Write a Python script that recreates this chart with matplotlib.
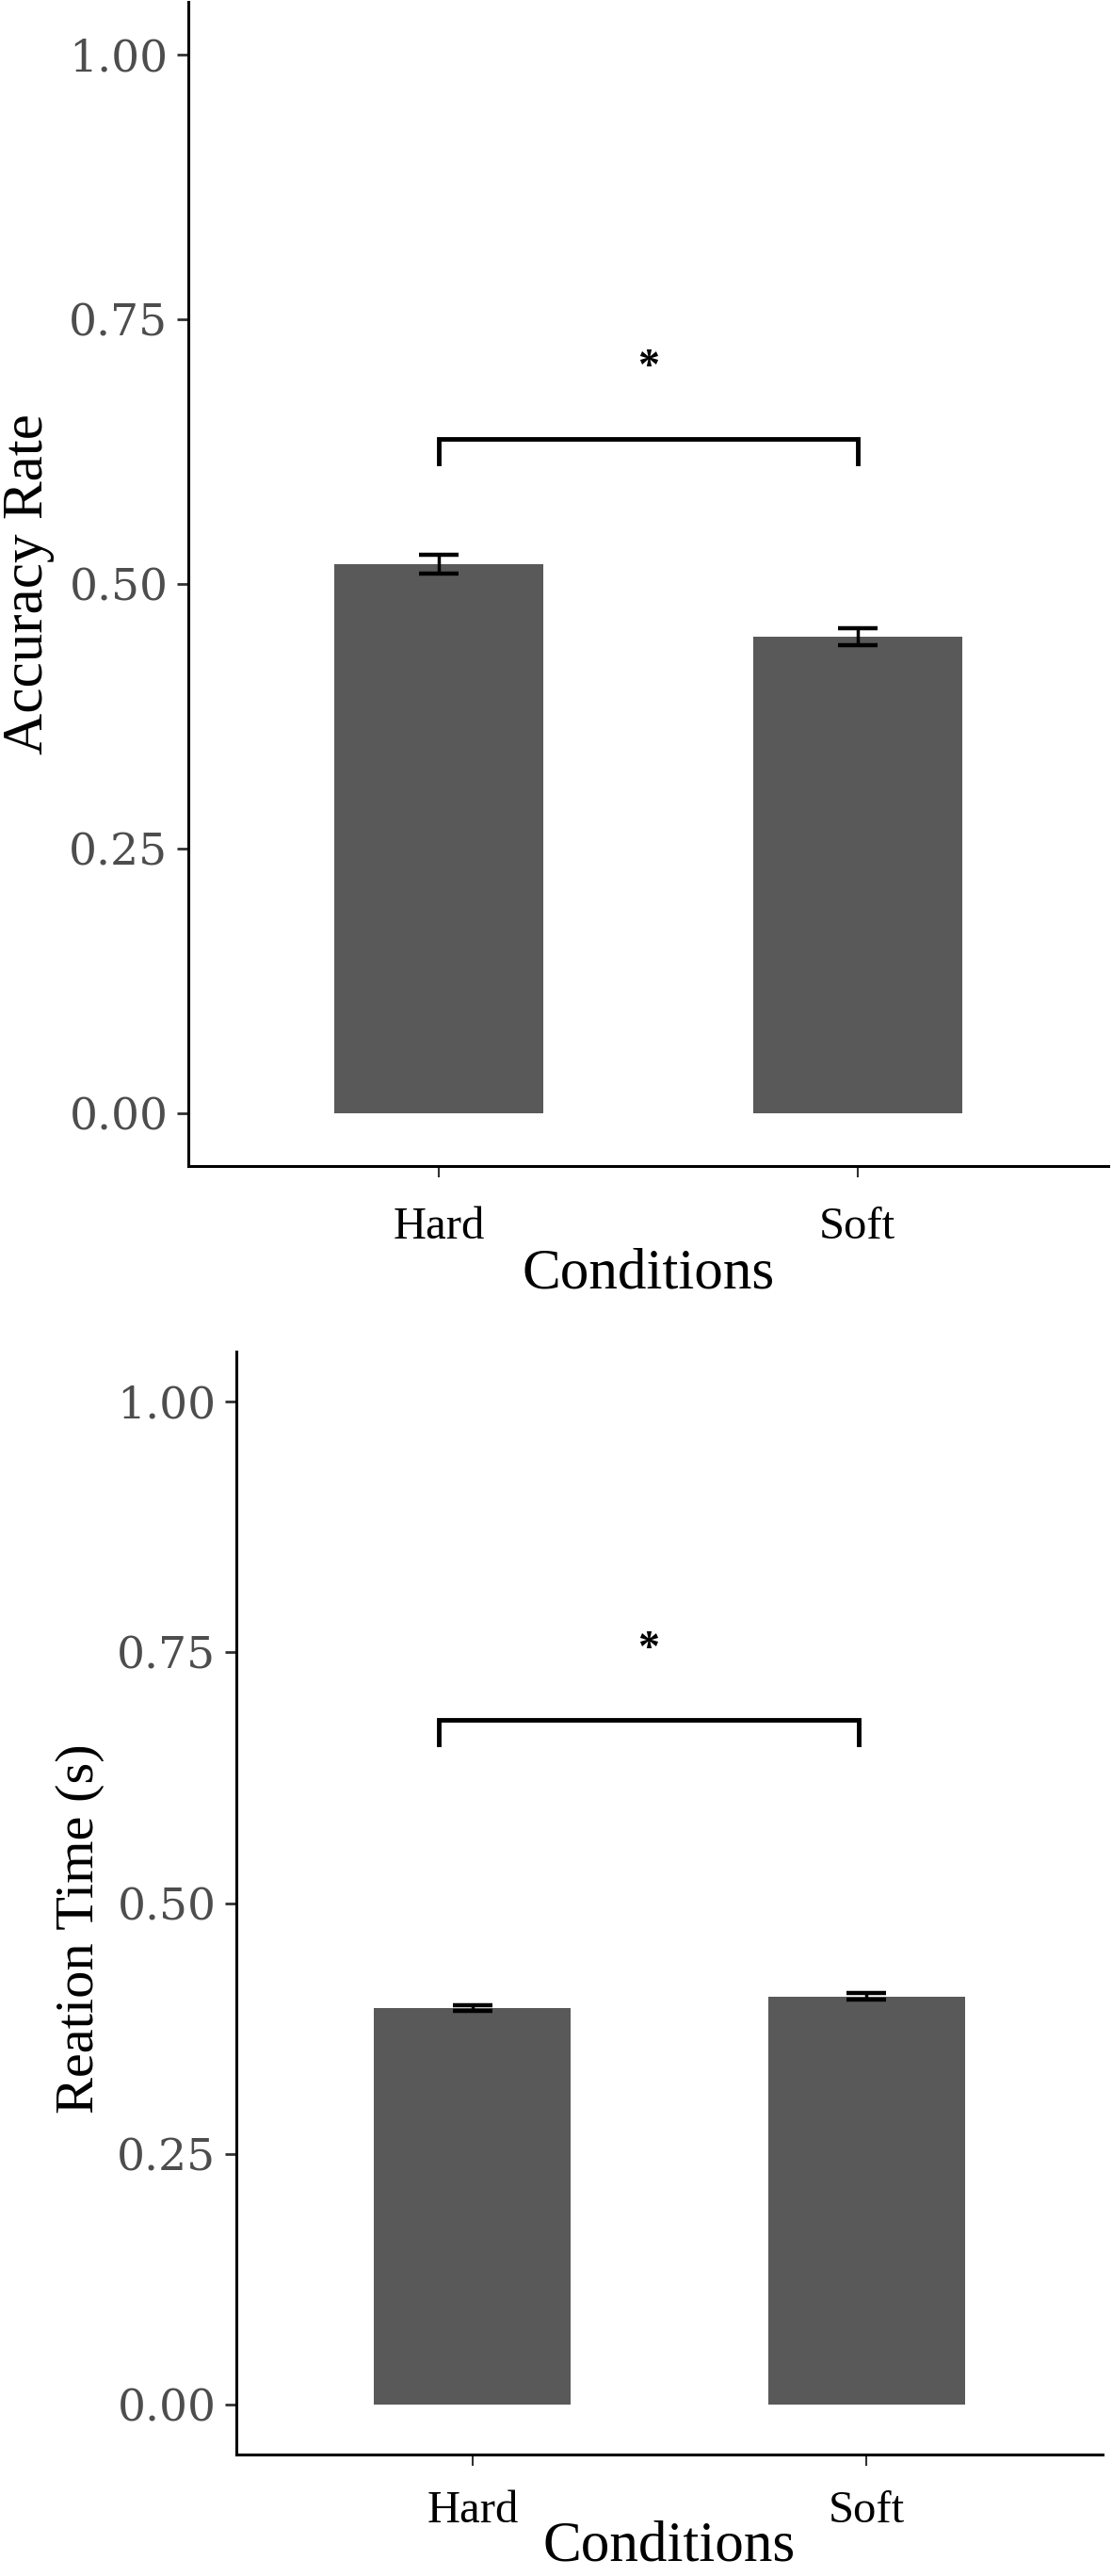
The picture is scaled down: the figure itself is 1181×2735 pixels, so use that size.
import matplotlib
matplotlib.use("Agg")
import matplotlib.pyplot as plt

plt.rcParams['font.family'] = ['Liberation Serif', 'DejaVu Serif']

conditions = ["Hard", "Soft"]
accuracy = [0.519, 0.450]
accuracy_err = [0.009, 0.008]
rt = [0.395, 0.407]
rt_err = [0.003, 0.003]
yticks = [0.00, 0.25, 0.50, 0.75, 1.00]
ytick_labels = ["0.00", "0.25", "0.50", "0.75", "1.00"]

# bracket: x-left, x-right, leg bottom, bar height, star height, star x
acc_bracket = (1.0, 2.0, 0.614, 0.637, 0.704, 1.50)
rt_bracket = (0.914, 1.98, 0.658, 0.683, 0.752, 1.446)

W, H = 1181, 2735
fig = plt.figure(figsize=(W / 100, H / 100), dpi=100)

def px_axes(l, t, r, b):
    return fig.add_axes([l / W, 1 - b / H, (r - l) / W, (b - t) / H])

def draw(ax, vals, errs, ylabel, bracket, ylab_x, ylab_y, xpad, lpad, ylab_size):
    x = list(range(1, len(conditions) + 1))
    ax.bar(x, vals, width=0.5, color="#595959", zorder=2)
    ax.errorbar(x, vals, yerr=errs, fmt="none", ecolor="black",
                elinewidth=2.5, capsize=15, capthick=3.2, zorder=3)
    x0, x1, lo, hi, star, sx = bracket
    ax.plot([x0, x0, x1, x1], [lo, hi, hi, lo], color="black", lw=3.5,
            solid_joinstyle="miter", zorder=3)
    ax.text(sx, star, "*", ha="center", va="center", fontsize=33,
            fontweight="bold", color="black")
    ax.set_xlim(0.4, 2.6)
    ax.set_ylim(-0.05, 1.05)
    ax.set_xticks(x)
    ax.set_xticklabels(conditions, fontsize=35, color="black")
    ax.set_yticks(yticks)
    ax.set_yticklabels(ytick_labels, fontsize=34, color="#4D4D4D",
                       family="DejaVu Serif")
    ax.set_xlabel("Conditions", fontsize=44, labelpad=lpad)
    ax.text(ylab_x, ylab_y, ylabel, rotation=90, ha="center", va="center",
            fontsize=ylab_size, transform=ax.transAxes)
    for s in ("top", "right"):
        ax.spines[s].set_visible(False)
    for s in ("left", "bottom"):
        ax.spines[s].set_linewidth(2.2)
        ax.spines[s].set_color("black")
    ax.tick_params(axis="y", length=8.5, width=2, color="#333333", pad=7)
    ax.tick_params(axis="x", length=8.5, width=1.5, color="#333333", pad=xpad)

ax1 = px_axes(200, 2, 1177, 1238)
draw(ax1, accuracy, accuracy_err, "Accuracy Rate", acc_bracket,
     (30 - 200) / 977, 0.5, 22.5, 0, 44)

ax2 = px_axes(251, 1435, 1171, 2606)
draw(ax2, rt, rt_err, "Reation Time (s)", rt_bracket,
     (85 - 251) / 920, (2606 - 2048) / 1171, 19, -9, 42)

fig.savefig("out.png", dpi=100)
